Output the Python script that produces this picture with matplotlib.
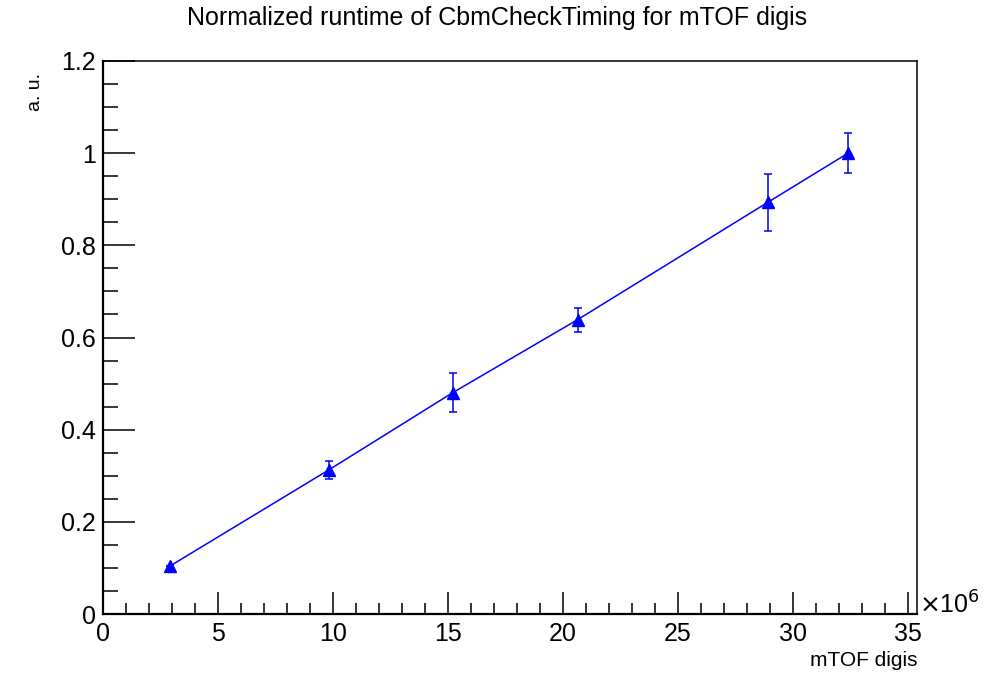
import numpy as np
import matplotlib.pyplot as plt
from matplotlib.ticker import MultipleLocator

plt.rcParams['font.family'] = ['Liberation Sans', 'DejaVu Sans']

# number of mTOF digis (in units of 1e6) and normalized runtime
digis = [2.91, 9.83, 15.2, 20.65, 28.9, 32.4]
runtime = [0.104, 0.313, 0.480, 0.639, 0.893, 1.0]
runtime_err = [0.0, 0.020, 0.042, 0.026, 0.061, 0.043]

fig = plt.figure(figsize=(9.94, 6.73), dpi=100)
ax = fig.add_axes([103 / 994, 59 / 673, 814 / 994, 553 / 673])

ax.errorbar(digis, runtime, yerr=runtime_err, color='blue', lw=1.1,
            marker='^', ms=9, elinewidth=1.1, capsize=3, capthick=1.1)

ax.set_xlim(0, 35.4)
ax.set_ylim(0, 1.2)
ax.xaxis.set_major_locator(MultipleLocator(5))
ax.xaxis.set_minor_locator(MultipleLocator(1))
ax.yaxis.set_major_locator(MultipleLocator(0.2))
ax.yaxis.set_minor_locator(MultipleLocator(0.05))
ax.set_xticks(np.arange(0, 36, 5))
ax.set_xticklabels([str(v) for v in range(0, 36, 5)])
ax.set_yticks([0, 0.2, 0.4, 0.6, 0.8, 1.0, 1.2])
ax.set_yticklabels(['0', '0.2', '0.4', '0.6', '0.8', '1', '1.2'])

ax.tick_params(axis='both', which='both', direction='in', top=False, right=False,
               labelsize=18, width=1.1)
ax.tick_params(axis='x', which='major', length=16, pad=6)
ax.tick_params(axis='x', which='minor', length=8)
ax.tick_params(axis='y', which='major', length=23, pad=5)
ax.tick_params(axis='y', which='minor', length=11)
for s in ax.spines.values():
    s.set_linewidth(1.1)
ax.spines['left'].set_linewidth(1.6)
ax.spines['bottom'].set_linewidth(1.6)

fig.text(0.5, 1 - 18 / 673, 'Normalized runtime of CbmCheckTiming for mTOF digis',
         ha='center', va='center', fontsize=18)
fig.text(35 / 994, 1 - 73 / 673, 'a. u.', rotation=90, ha='center', va='top', fontsize=14)
fig.text(917 / 994, 1 - 660 / 673, 'mTOF digis', ha='right', va='center', fontsize=15)
fig.text(919 / 994, 1 - 605 / 673, r'$\times$10$^{6}$', ha='left', va='center', fontsize=18)

fig.savefig('out.png', dpi=100)
